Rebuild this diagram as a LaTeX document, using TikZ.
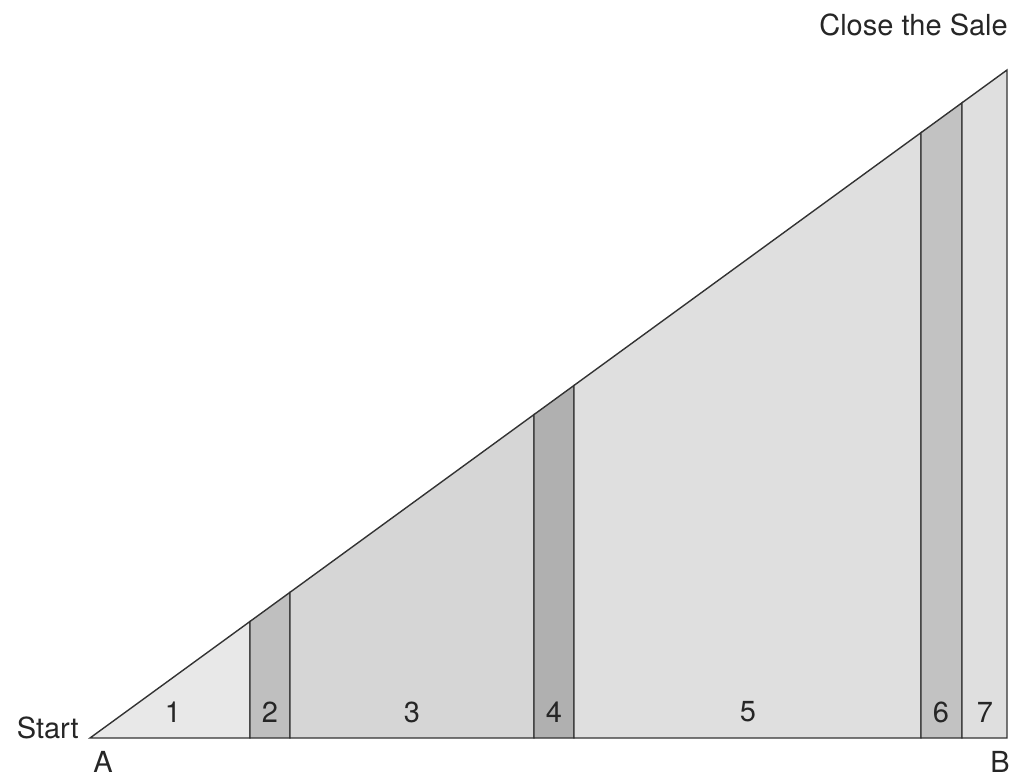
\documentclass[tikz,border=0pt]{standalone}
\usepackage{fontspec}
\setmainfont{TeX Gyre Heros}
\begin{document}
\begin{tikzpicture}[x=1pt,y=-1pt,
  seg/.style={draw=black!80,line width=1.4pt,line join=miter},
  lab/.style={font=\fontsize{29}{32}\selectfont,text=black!85,inner sep=0pt},
  c1/.style={fill=gray!18!white}, c2/.style={fill=gray!50!white},
  c3/.style={fill=gray!32!white}, c4/.style={fill=gray!62!white},
  c5/.style={fill=gray!25!white}, c6/.style={fill=gray!48!white},
  c7/.style={fill=gray!25!white}]
\useasboundingbox (0,0) rectangle (1013,779);
% apex A at (90,738), B at (1007,738), top at (1007,70)
\def\yt#1{738-(#1-90)*0.72846}
\coordinate (A) at (90,738);
\coordinate (B) at (1007,738);
\coordinate (T) at (1007,70);
\filldraw[seg,c1] (A) -- (250,738) -- (250,{\yt{250}}) -- cycle;
\filldraw[seg,c2] (250,738) -- (290,738) -- (290,{\yt{290}}) -- (250,{\yt{250}}) -- cycle;
\filldraw[seg,c3] (290,738) -- (534,738) -- (534,{\yt{534}}) -- (290,{\yt{290}}) -- cycle;
\filldraw[seg,c4] (534,738) -- (574,738) -- (574,{\yt{574}}) -- (534,{\yt{534}}) -- cycle;
\filldraw[seg,c5] (574,738) -- (921,738) -- (921,{\yt{921}}) -- (574,{\yt{574}}) -- cycle;
\filldraw[seg,c6] (921,738) -- (962,738) -- (962,{\yt{962}}) -- (921,{\yt{921}}) -- cycle;
\filldraw[seg,c7] (962,738) -- (B) -- (T) -- (962,{\yt{962}}) -- cycle;
\node[lab] (n1) at (173,712) {1};
\node[lab] (n2) at (270,712) {2};
\node[lab] (n3) at (412,712) {3};
\node[lab] (n4) at (554,712) {4};
\node[lab] (n5) at (748,712) {5};
\node[lab] (n6) at (941,712) {6};
\node[lab] (n7) at (985,712) {7};
\node[lab,anchor=base east] (start) at (79,738) {Start};
\node[lab,anchor=base] (la) at (103,772) {A};
\node[lab,anchor=base] (lb) at (1000,772) {B};
\node[lab,anchor=base east] (close) at (1008,35) {Close the Sale};
\end{tikzpicture}
\end{document}
